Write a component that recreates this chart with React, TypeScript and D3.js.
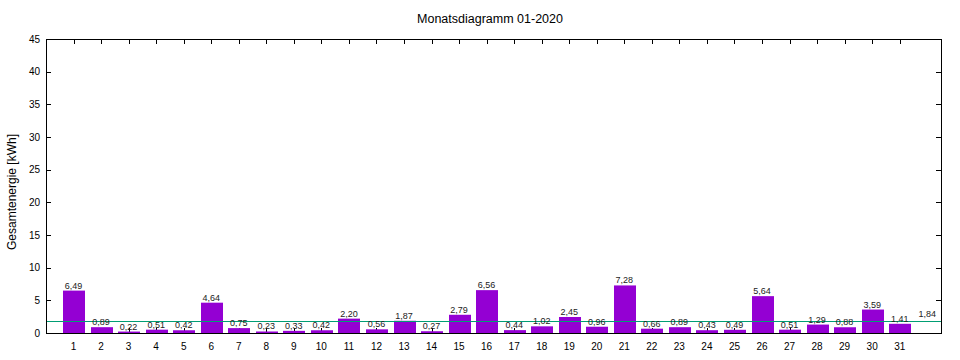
import * as d3 from "d3";

// daily energy, January 2020
const days = d3.range(1, 32);
const values = [
  6.49, 0.89, 0.22, 0.51, 0.42, 4.64, 0.75, 0.23, 0.33, 0.42,
  2.2, 0.56, 1.87, 0.27, 2.79, 6.56, 0.44, 1.02, 2.45, 0.96,
  7.28, 0.66, 0.89, 0.43, 0.49, 5.64, 0.51, 1.29, 0.88, 3.59, 1.41,
];
const average = 1.84;
const yTicks = [0, 5, 10, 15, 20, 25, 30, 35, 40, 45];

const title = "Monatsdiagramm 01-2020";
const yLabel = "Gesamtenergie [kWh]";

const dims = {
  width: 960,
  height: 360,
  left: 46,
  right: 941,
  top: 39,
  bottom: 333,
};

const font = "'Liberation Sans', Arial, sans-serif";
const fmt = (v: number) => v.toFixed(2).replace(".", ",");

const App = () => {
  const x = d3.scaleLinear().domain([0, 32.5]).range([dims.left, dims.right]);
  const y = d3.scaleLinear().domain([0, 45]).range([dims.bottom, dims.top]);

  const half = 0.4;
  const bars = days.map((d, i) => ({ day: d, value: values[i] }));

  return (
    <svg
      width={dims.width}
      height={dims.height}
      style={{ position: "absolute", left: 0, top: 0, background: "#fff" }}
      fontFamily={font}
    >
      <text x={490} y={23} fontSize={12.5} textAnchor="middle" fill="#000">
        {title}
      </text>

      <text
        transform={`translate(16,${(dims.top + dims.bottom) / 2 + 6}) rotate(-90)`}
        fontSize={12}
        textAnchor="middle"
        fill="#000"
      >
        {yLabel}
      </text>

      {/* y ticks, left and right, pointing inward */}
      {yTicks.map((t) => (
        <g key={"y" + t}>
          <line x1={dims.left} x2={dims.left + 5} y1={Math.round(y(t)) + 0.5} y2={Math.round(y(t)) + 0.5} stroke="#000" />
          <line x1={dims.right - 5} x2={dims.right} y1={Math.round(y(t)) + 0.5} y2={Math.round(y(t)) + 0.5} stroke="#000" />
          <text x={dims.left - 6} y={y(t) + 3.5} fontSize={10} textAnchor="end" fill="#000">
            {t}
          </text>
        </g>
      ))}

      {/* x ticks, bottom and top */}
      {days.map((d) => (
        <g key={"x" + d}>
          <line x1={Math.round(x(d)) + 0.5} x2={Math.round(x(d)) + 0.5} y1={dims.bottom} y2={dims.bottom - 5} stroke="#000" />
          <line x1={Math.round(x(d)) + 0.5} x2={Math.round(x(d)) + 0.5} y1={dims.top} y2={dims.top + 5} stroke="#000" />
          <text x={x(d)} y={350} fontSize={10} textAnchor="middle" fill="#000">
            {d}
          </text>
        </g>
      ))}

      {/* bars */}
      {bars.map((b) => (
        <rect
          key={"b" + b.day}
          x={Math.round(x(b.day - half + 0.02))}
          width={Math.round(x(b.day + half + 0.02) - x(b.day - half + 0.02))}
          y={y(b.value)}
          height={y(0) - y(b.value)}
          fill="#9400d3"
        />
      ))}

      {/* average line */}
      <line
        x1={dims.left}
        x2={dims.right}
        y1={Math.round(y(average)) + 0.5}
        y2={Math.round(y(average)) + 0.5}
        stroke="#009e73"
        strokeWidth={1}
      />

      {/* value labels */}
      {bars.map((b) => (
        <text
          key={"l" + b.day}
          x={x(b.day)}
          y={y(b.value) - 2}
          fontSize={9}
          textAnchor="middle"
          fill="#222"
        >
          {fmt(b.value)}
        </text>
      ))}
      <text x={x(32)} y={y(average) - 4} fontSize={9} textAnchor="middle" fill="#222">
        {fmt(average)}
      </text>

      {/* border */}
      <rect
        x={dims.left + 0.5}
        y={dims.top + 0.5}
        width={dims.right - dims.left}
        height={dims.bottom - dims.top}
        fill="none"
        stroke="#000"
      />
    </svg>
  );
};

export default App;
